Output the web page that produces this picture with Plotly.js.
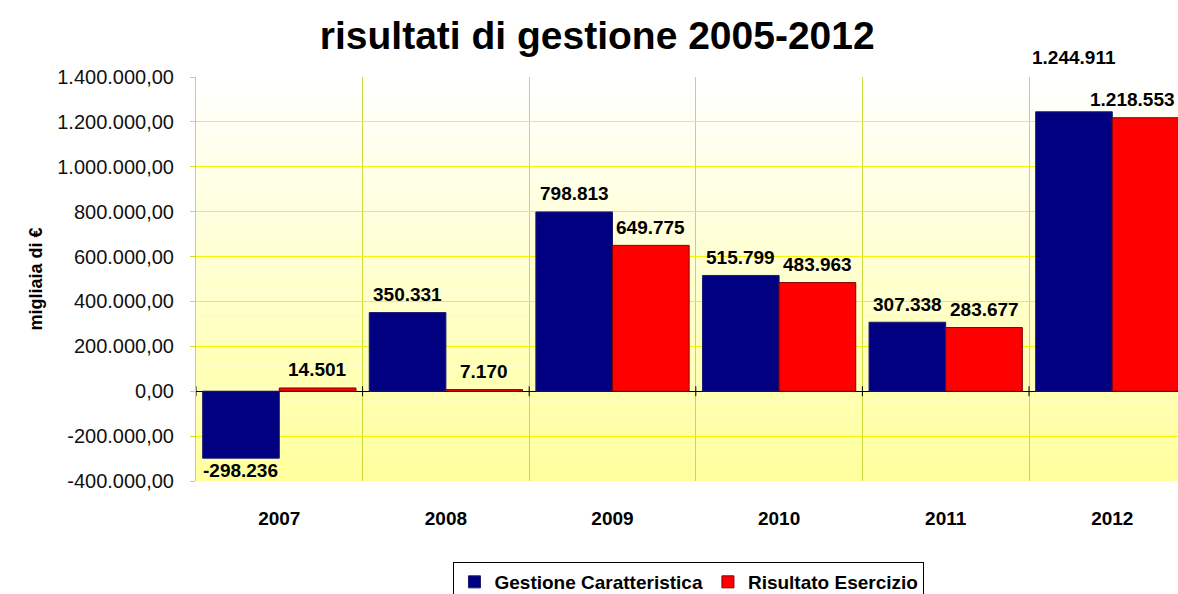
<!DOCTYPE html>
<html>
<head>
<meta charset="utf-8">
<script src="https://cdn.plot.ly/plotly-3.0.1.min.js"></script>
<style>
  html, body { margin: 0; padding: 0; background: #fff; }
  #chart { width: 1178px; height: 594px; }
</style>
</head>
<body>
<div id="chart"></div>
<script>
let anni = ['2007', '2008', '2009', '2010', '2011', '2012'];
let gestioneCar = [-298236, 350331, 798813, 515799, 307338, 1244911];
let risultatoEs = [14501, 7170, 649775, 483963, 283677, 1218553];
let nomi = ['Gestione Caratteristica', 'Risultato Esercizio'];
let yTicks = [-400000, -200000, 0, 200000, 400000, 600000, 800000, 1000000, 1200000, 1400000];

const W = 1178, H = 594;
const mL = 196, mR = 0, mT = 77, mB = 113;
const catW = 166.6;               // larghezza in px di una categoria
const plotW = W - mL - mR;
const plotH = H - mT - mB;
const yMin = -400000, yMax = 1400000;
const bargap = 0.08;
const barPx = catW * (1 - bargap) / 2;
const font = 'Liberation Sans, Arial, sans-serif';

function formatta(v) {
    let s = Math.abs(v).toString().replace(/\B(?=(\d{3})+(?!\d))/g, '.');
    return (v < 0 ? '-' : '') + s;
}
function yPix(v) {
    return mT + (yMax - v) / (yMax - yMin) * plotH;
}
function larghezza(txt) {
    let w = 0;
    for (let c of txt) w += (c === '.' ? 5.3 : (c === '-' ? 6.3 : 10.6));
    return w;
}

var trace1 = {
    x: anni, y: gestioneCar, name: nomi[0], type: 'bar',
    marker: {color: '#000080', line: {color: '#1a1a70', width: 1}}
};
var trace2 = {
    x: anni, y: risultatoEs, name: nomi[1], type: 'bar',
    marker: {color: '#FF0000', line: {color: '#800000', width: 1}}
};

// etichette dei valori sopra (o sotto) le barre
let annotations = [];
const gapLbl = 8, hLbl = 20;
for (let i = 0; i < anni.length; i++) {
    let vals = [gestioneCar[i], risultatoEs[i]];
    let shifts = [-barPx / 2, barPx / 2];
    let boxes = vals.map(function (v, k) {
        let t = formatta(v);
        let cx = mL + (i + 0.5) * catW + shifts[k];
        let w = larghezza(t);
        // non uscire dal bordo destro
        let dx = Math.min(0, (W - 3) - (cx + w / 2));
        let top = v >= 0 ? yPix(v) - gapLbl - hLbl : yPix(v) + 2;
        return {t: t, cx: cx + dx, dx: dx, w: w, top: top};
    });
    // se le due etichette si toccano, alza la più alta
    let a = boxes[0], b = boxes[1];
    if (a.cx + a.w / 2 > b.cx - b.w / 2 && Math.abs(a.top - b.top) < hLbl) {
        if (a.top <= b.top) a.top = b.top - hLbl - 22;
        else b.top = a.top - hLbl - 22;
    }
    boxes.forEach(function (bx, k) {
        annotations.push({
            xref: 'x', yref: 'y', x: i, y: vals[k],
            xshift: shifts[k] + bx.dx, yshift: yPix(vals[k]) - (bx.top + hLbl / 2),
            yanchor: 'middle', xanchor: 'center',
            text: '<b>' + bx.t + '</b>', showarrow: false,
            font: {family: font, size: 19, color: '#000000'}
        });
    });
}

// sfondo sfumato dal bianco al giallo
let shapes = [];
const nStrisce = 60;
for (let s = 0; s < nStrisce; s++) {
    let f = (s + 0.5) / nStrisce;
    let g = Math.round(255 - f * 100);
    shapes.push({
        type: 'rect', xref: 'paper', yref: 'y', layer: 'below',
        x0: 0, x1: 1,
        y0: yMax - s * (yMax - yMin) / nStrisce,
        y1: yMax - (s + 1) * (yMax - yMin) / nStrisce,
        fillcolor: 'rgb(255,255,' + g + ')', line: {width: 0}
    });
}
// tacche sull'asse dello zero, ai confini delle categorie
for (let i = 0; i <= anni.length; i++) {
    shapes.push({
        type: 'line', xref: 'x', yref: 'y', ysizemode: 'pixel', yanchor: 0,
        x0: i - 0.5, x1: i - 0.5, y0: -5, y1: 5,
        line: {color: '#000', width: 1}
    });
}

var layout = {
    width: W, height: H,
    margin: {l: mL, r: mR, t: mT, b: mB, pad: 0, autoexpand: false},
    paper_bgcolor: '#ffffff',
    plot_bgcolor: 'rgba(0,0,0,0)',
    separators: ',.',
    barmode: 'group', bargap: bargap, bargroupgap: 0,
    title: {
        text: '<b>risultati di gestione 2005-2012</b>',
        font: {family: font, size: 39, color: '#000'},
        x: 0.507, xanchor: 'center', y: 1 - 35 / H, yanchor: 'middle'
    },
    xaxis: {
        type: 'category',
        range: [-0.5, plotW / catW - 0.5],
        tickson: 'boundaries',
        showgrid: true, gridcolor: '#C8DC3C', gridwidth: 1,
        ticks: '', ticklabelstandoff: 24,
        showline: false, zeroline: false,
        tickfont: {family: font, size: 19, color: '#000', weight: 'bold'}
    },
    yaxis: {
        range: [yMin, yMax],
        tickvals: yTicks,
        ticktext: yTicks.map(function (v) { return formatta(v) + ',00'; }),
        showgrid: true, gridcolor: '#F5F500', gridwidth: 1,
        zeroline: true, zerolinecolor: '#000000', zerolinewidth: 1,
        showline: true, linecolor: '#C8DC3C', linewidth: 1,
        ticks: 'outside', ticklen: 5, tickcolor: '#C8DC3C',
        ticklabelstandoff: 12,
        tickfont: {family: font, size: 20, color: '#111'},
        title: {
            text: '<b>migliaia di €</b>', standoff: 9,
            font: {family: font, size: 18, color: '#000'}
        }
    },
    showlegend: true,
    legend: {
        orientation: 'h', x: 0.502, xanchor: 'center',
        y: (plotH - (562 - mT)) / plotH, yanchor: 'top',
        bordercolor: '#000', borderwidth: 1, bgcolor: '#fff',
        font: {family: font, size: 19, color: '#000', weight: 'bold'},
        itemwidth: 30, traceorder: 'normal'
    },
    shapes: shapes,
    annotations: annotations
};

Plotly.newPlot('chart', [trace1, trace2], layout, {displayModeBar: false, staticPlot: true});
</script>
</body>
</html>
